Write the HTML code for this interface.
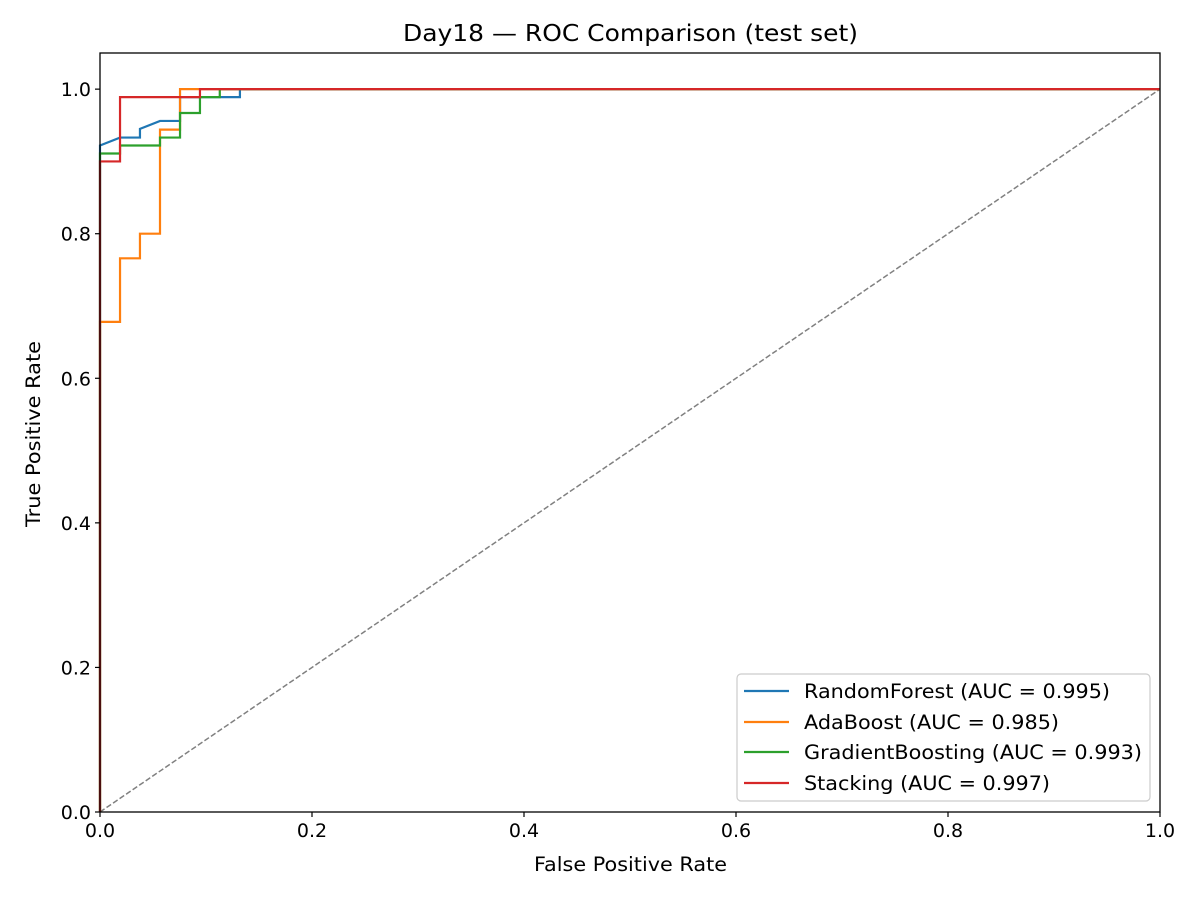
<!DOCTYPE html>
<html><head><meta charset="utf-8"><style>
html,body{margin:0;padding:0;background:#fff;}
svg text{font-family:"DejaVu Sans","Liberation Sans",sans-serif;fill:#000;}
</style></head><body>
<svg id="chart" width="1200" height="900" xmlns="http://www.w3.org/2000/svg">
<rect x="0" y="0" width="1200" height="900" fill="#fff"/>
<text x="403" y="41" font-size="23" textLength="455" lengthAdjust="spacingAndGlyphs">Day18 — ROC Comparison (test set)</text>
<g id="curves"></g>
<rect x="100" y="53" width="1060" height="759" fill="none" stroke="#000" stroke-width="1.3"/>
<g id="ticks"></g>
<text x="534" y="871" font-size="19.5" textLength="193" lengthAdjust="spacingAndGlyphs">False Positive Rate</text>
<text x="40" y="527" font-size="19.5" textLength="186" lengthAdjust="spacingAndGlyphs" transform="rotate(-90 40 527)">True Positive Rate</text>
<g id="legend"></g>
</svg>
<script>
const seriesNames = ["RandomForest (AUC = 0.995)","AdaBoost (AUC = 0.985)","GradientBoosting (AUC = 0.993)","Stacking (AUC = 0.997)"];
const seriesColors = ["#1f77b4","#ff7f0e","#2ca02c","#d62728"];
const rfFpr = [0,0,0.0189,0.0377,0.0377,0.0566,0.0755,0.0755,0.132,0.132,1];
const rfTpr = [0,0.922,0.933,0.933,0.945,0.956,0.956,0.989,0.989,1,1];
const adaFpr = [0,0,0.0189,0.0189,0.0377,0.0377,0.0566,0.0566,0.0755,0.0755,1];
const adaTpr = [0,0.678,0.678,0.766,0.766,0.8,0.8,0.944,0.944,1,1];
const gbFpr = [0,0,0.0189,0.0189,0.0566,0.0566,0.0755,0.0755,0.0943,0.0943,0.113,0.113,1];
const gbTpr = [0,0.911,0.911,0.922,0.922,0.933,0.933,0.967,0.967,0.989,0.989,1,1];
const stFpr = [0,0,0.0189,0.0189,0.0943,0.0943,1];
const stTpr = [0,0.9,0.9,0.989,0.989,1,1];
const xTicks = [0,0.2,0.4,0.6,0.8,1.0];
const yTicks = [0,0.2,0.4,0.6,0.8,1.0];
const xTickLabels = ["0.0","0.2","0.4","0.6","0.8","1.0"];
const yTickLabels = ["0.0","0.2","0.4","0.6","0.8","1.0"];
const legendWidths = [306,255,338,246];

const NS="http://www.w3.org/2000/svg";
const X0=100,X1=1160,Y0=812,Y1=53,YMAX=1.05;
function sx(v){return X0+v*(X1-X0);}
function sy(v){return Y0-v/YMAX*(Y0-Y1);}
function mk(tag,attrs,parent){const e=document.createElementNS(NS,tag);for(const k in attrs)e.setAttribute(k,attrs[k]);parent.appendChild(e);return e;}

const curves=document.getElementById('curves');
const diag=mk('line',{x1:sx(0),y1:sy(0),x2:sx(1),y2:sy(1),stroke:'#808080','stroke-width':1.5,'stroke-dasharray':'5.5,2.4'},curves);


const allF=[rfFpr,adaFpr,gbFpr,stFpr], allT=[rfTpr,adaTpr,gbTpr,stTpr];
const curveNames=['randomforest-curve','adaboost-curve','gradientboosting-curve','stacking-curve'];
for(let s=0;s<4;s++){
  const pts=allF[s].map((f,i)=>sx(f).toFixed(2)+','+sy(allT[s][i]).toFixed(2)).join(' ');
  const p=mk('polyline',{points:pts,fill:'none',stroke:seriesColors[s],'stroke-width':2.2},curves);
  
  
}
const ticks=document.getElementById('ticks');
xTicks.forEach((v,i)=>{
  const l=mk('line',{x1:sx(v),x2:sx(v),y1:Y0,y2:Y0+5,stroke:'#000','stroke-width':1.2},ticks);
  
  
  const t=mk('text',{x:sx(v),y:Y0+25,'font-size':19,'text-anchor':'middle'},ticks);
  t.textContent=xTickLabels[i];
  
  
});
yTicks.forEach((v,i)=>{
  const l=mk('line',{x1:X0-5,x2:X0,y1:sy(v),y2:sy(v),stroke:'#000','stroke-width':1.2},ticks);
  
  
  const t=mk('text',{x:X0-9,y:sy(v)+7,'font-size':19,'text-anchor':'end'},ticks);
  t.textContent=yTickLabels[i];
  
  
});
const lg=document.getElementById('legend');
mk('rect',{x:737,y:674,width:413,height:127,rx:4,fill:'#fff','fill-opacity':0.8,stroke:'#cccccc','stroke-width':1.2},lg);
const rowY=[691,722,752,783];
seriesNames.forEach((n,i)=>{
  const l=mk('line',{x1:744,x2:789,y1:rowY[i],y2:rowY[i],stroke:seriesColors[i],'stroke-width':2.2},lg);
  
  
  const t=mk('text',{x:804,y:rowY[i]+7,'font-size':19.5,textLength:legendWidths[i],lengthAdjust:'spacingAndGlyphs'},lg);
  t.textContent=n;
  
  
});
</script>
</body></html>
